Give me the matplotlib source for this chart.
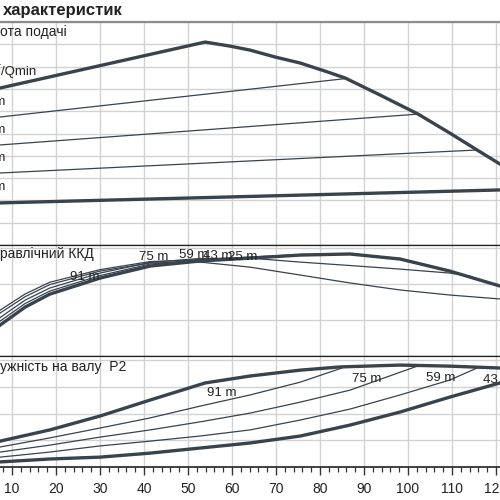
import matplotlib
matplotlib.use("Agg")
import matplotlib.pyplot as plt
from matplotlib.ticker import MultipleLocator

plt.rcParams["font.family"] = ["Liberation Sans", "DejaVu Sans"]

CURVE = "#38434e"
GRID = "#d2d2d2"
TEXT = "#222222"

# --- head panel (flow Q vs head H) ---
q_qh_max = [0, 7.3, 53.9, 59.5, 64.1, 69.8, 75.5, 81.1, 85.7, 93.6, 102.3, 109.5,
            115.7, 120.9, 125]
h_qh_max = [67.3, 70.4, 91.0, 89.2, 87.4, 84.3, 81.6, 78.0, 74.9, 67.3, 58.7, 50.2,
            42.6, 36.3, 31.4]
ctrl_labels = ["75 m", "59 m", "43 m", "25 m"]
ctrl_q = [[0, 85.7], [0, 102.3], [0, 115.7], [0, 125]]
ctrl_h = [[55.8, 74.6], [43.8, 58.7], [31.6, 42.6], [18.5, 24.9]]
ctrl_label_h = [64.1, 51.6, 39.0, 26.0]

# --- efficiency panel ---
q_eff = [0, 7.3, 13.0, 18.6, 30.0, 41.4, 52.7, 64.1, 75.5, 86.8, 98.2, 109.5, 120.9, 125]
eff_main = [0, 17.2, 27.2, 34.4, 43.3, 50.0, 52.8, 54.4, 56.1, 56.7, 53.9, 47.2, 38.9, 35.5]
eff_75 = [0, 19.4, 29.2, 36.1, 44.7, 51.1, 53.6, 55.0, 56.4, 56.9, 54.2, 47.5]
q_eff_59 = [0, 7.3, 13.0, 18.6, 30.0, 41.4, 52.7, 64.1, 75.5, 86.8, 98.2, 109.5, 114.1]
eff_59 = [0, 21.4, 31.1, 37.8, 46.1, 52.0, 54.2, 54.4, 52.2, 50.3, 48.3, 46.1, 44.4]
eff_43 = [0, 23.9, 33.0, 39.7, 47.2, 51.7, 52.2, 49.4, 45.0, 40.6, 36.7, 33.9, 31.7, 31.1]
eff_25 = [0, 25.5, 34.5, 41.0, 48.0, 52.5, 53.5, 54.2]
eff_labels = ["91 m", "75 m", "59 m", "43 m", "25 m"]
eff_label_q = [26.6, 42.3, 51.4, 56.8, 62.5]
eff_label_e = [43.9, 55.0, 56.1, 55.6, 55.0]

# --- shaft power panel ---
q_p_max = [0, 7.3, 18.6, 30.0, 41.4, 53.9, 64.1, 75.5, 84.5, 98.2, 109.5, 120.9, 125]
p_max = [0.71, 0.97, 1.39, 1.91, 2.51, 3.15, 3.41, 3.63, 3.75, 3.82, 3.78, 3.71, 3.67]
q_p75 = [0, 7.3, 18.6, 30.0, 41.4, 52.7, 64.1, 75.5, 85.0]
p_75 = [0.56, 0.75, 1.09, 1.46, 1.84, 2.28, 2.70, 3.18, 3.71]
q_p59 = [0, 7.3, 18.6, 30.0, 41.4, 52.7, 64.1, 75.5, 86.8, 102.1]
p_59 = [0.41, 0.56, 0.82, 1.12, 1.39, 1.69, 2.02, 2.43, 2.88, 3.78]
q_p43 = [0, 7.3, 18.6, 30.0, 41.4, 52.7, 64.1, 75.5, 86.8, 98.2, 109.5, 115.7]
p_43 = [0.26, 0.37, 0.56, 0.79, 0.97, 1.16, 1.39, 1.76, 2.17, 2.70, 3.26, 3.71]
q_p25 = [0, 7.3, 18.6, 30.0, 41.4, 52.7, 64.1, 75.5, 86.8, 98.2, 109.5, 120.9, 125]
p_25 = [0.11, 0.19, 0.30, 0.37, 0.52, 0.71, 0.90, 1.16, 1.57, 2.06, 2.62, 3.15, 3.37]
pow_labels = ["91 m", "75 m", "59 m", "43 m"]
pow_label_q = [57.7, 90.5, 107.5, 120.4]
pow_label_p = [2.77, 3.30, 3.33, 3.26]

fig = plt.figure(figsize=(5, 5), dpi=100)
fig.patch.set_facecolor("white")

ax_h = fig.add_axes([-0.064, 0.51, 1.1, 0.446])
ax_e = fig.add_axes([-0.064, 0.288, 1.1, 0.222])
ax_p = fig.add_axes([-0.064, 0.066, 1.1, 0.222])

for ax in (ax_h, ax_e, ax_p):
    ax.set_xlim(0, 125)
    ax.xaxis.set_major_locator(MultipleLocator(10))
    ax.xaxis.set_minor_locator(MultipleLocator(2))
    ax.grid(True, which="major", color=GRID, linewidth=1.0)
    ax.set_axisbelow(True)
    ax.spines["left"].set_visible(False)
    ax.spines["right"].set_visible(False)
    ax.spines["top"].set_color("#222222")
    ax.spines["bottom"].set_color("#222222")
    ax.spines["top"].set_linewidth(0.9)
    ax.spines["bottom"].set_linewidth(0.9)
    ax.tick_params(axis="y", length=0, labelleft=False)

for ax in (ax_h, ax_e):
    ax.tick_params(axis="x", which="both", length=0, labelbottom=False)

ax_h.spines["top"].set_color("#8c8c8c")
ax_h.spines["top"].set_linewidth(1.6)

# head
ax_h.set_ylim(0, 100)
ax_h.yaxis.set_major_locator(MultipleLocator(10))
ax_h.plot(q_qh_max, h_qh_max, color=CURVE, lw=2.4, solid_joinstyle="round")
for i, (q, h) in enumerate(zip(ctrl_q, ctrl_h)):
    lw = 2.4 if i == len(ctrl_q) - 1 else 0.9
    ax_h.plot(q, h, color=CURVE, lw=lw)
    ax_h.text(8.5, ctrl_label_h[i], ctrl_labels[i], ha="right", va="center",
              fontsize=9.5, color=TEXT)
ax_h.text(7.4, 77.6, "/Qmin", ha="left", va="center", fontsize=9.5, color=TEXT)
ax_h.text(7.5, 82.0, "1", ha="right", va="center", fontsize=7, color="#1a3cff")

# efficiency
ax_e.set_ylim(0, 61.7)
ax_e.yaxis.set_major_locator(MultipleLocator(20))
ax_e.plot(q_eff[:len(eff_25)], eff_25, color=CURVE, lw=0.9)
ax_e.plot(q_eff, eff_43, color=CURVE, lw=0.9)
ax_e.plot(q_eff_59, eff_59, color=CURVE, lw=0.9)
ax_e.plot(q_eff[:len(eff_75)], eff_75, color=CURVE, lw=0.9)
ax_e.plot(q_eff, eff_main, color=CURVE, lw=2.4)
for lab, q, e in zip(eff_labels, eff_label_q, eff_label_e):
    ax_e.text(q, e, lab, ha="center", va="center", fontsize=9.5, color=TEXT)

# power
ax_p.set_ylim(0, 4.16)
ax_p.yaxis.set_major_locator(MultipleLocator(1))
ax_p.plot(q_p_max, p_max, color=CURVE, lw=2.4)
ax_p.plot(q_p75, p_75, color=CURVE, lw=0.9)
ax_p.plot(q_p59, p_59, color=CURVE, lw=0.9)
ax_p.plot(q_p43, p_43, color=CURVE, lw=0.9)
ax_p.plot(q_p25, p_25, color=CURVE, lw=2.4)
for lab, q, p in zip(pow_labels, pow_label_q, pow_label_p):
    ax_p.text(q, p, lab, ha="center", va="center", fontsize=9.5, color=TEXT)

ax_p.spines["bottom"].set_linewidth(1.2)
ax_p.tick_params(axis="x", which="major", direction="out", length=6, width=1.0,
                 color="#333333", labelsize=10, labelcolor=TEXT, pad=5)
ax_p.tick_params(axis="x", which="minor", direction="out", length=3.8, width=0.9,
                 color="#333333")

# panel captions (cut by the left edge of the crop)
fig.text(0.006, 1 - 10 / 500, "характеристик", fontsize=12, fontweight="bold",
         color=TEXT, va="center", ha="left")
fig.text(0.0, 1 - 32 / 500, "ота подачі", fontsize=10, color=TEXT,
         va="center", ha="left")
fig.text(0.0, 1 - 254 / 500, "равлічний ККД", fontsize=10, color=TEXT,
         va="center", ha="left")
fig.text(0.0, 1 - 367 / 500, "ужність на валу  P2", fontsize=10, color=TEXT,
         va="center", ha="left")

fig.savefig("out.png", dpi=100)
